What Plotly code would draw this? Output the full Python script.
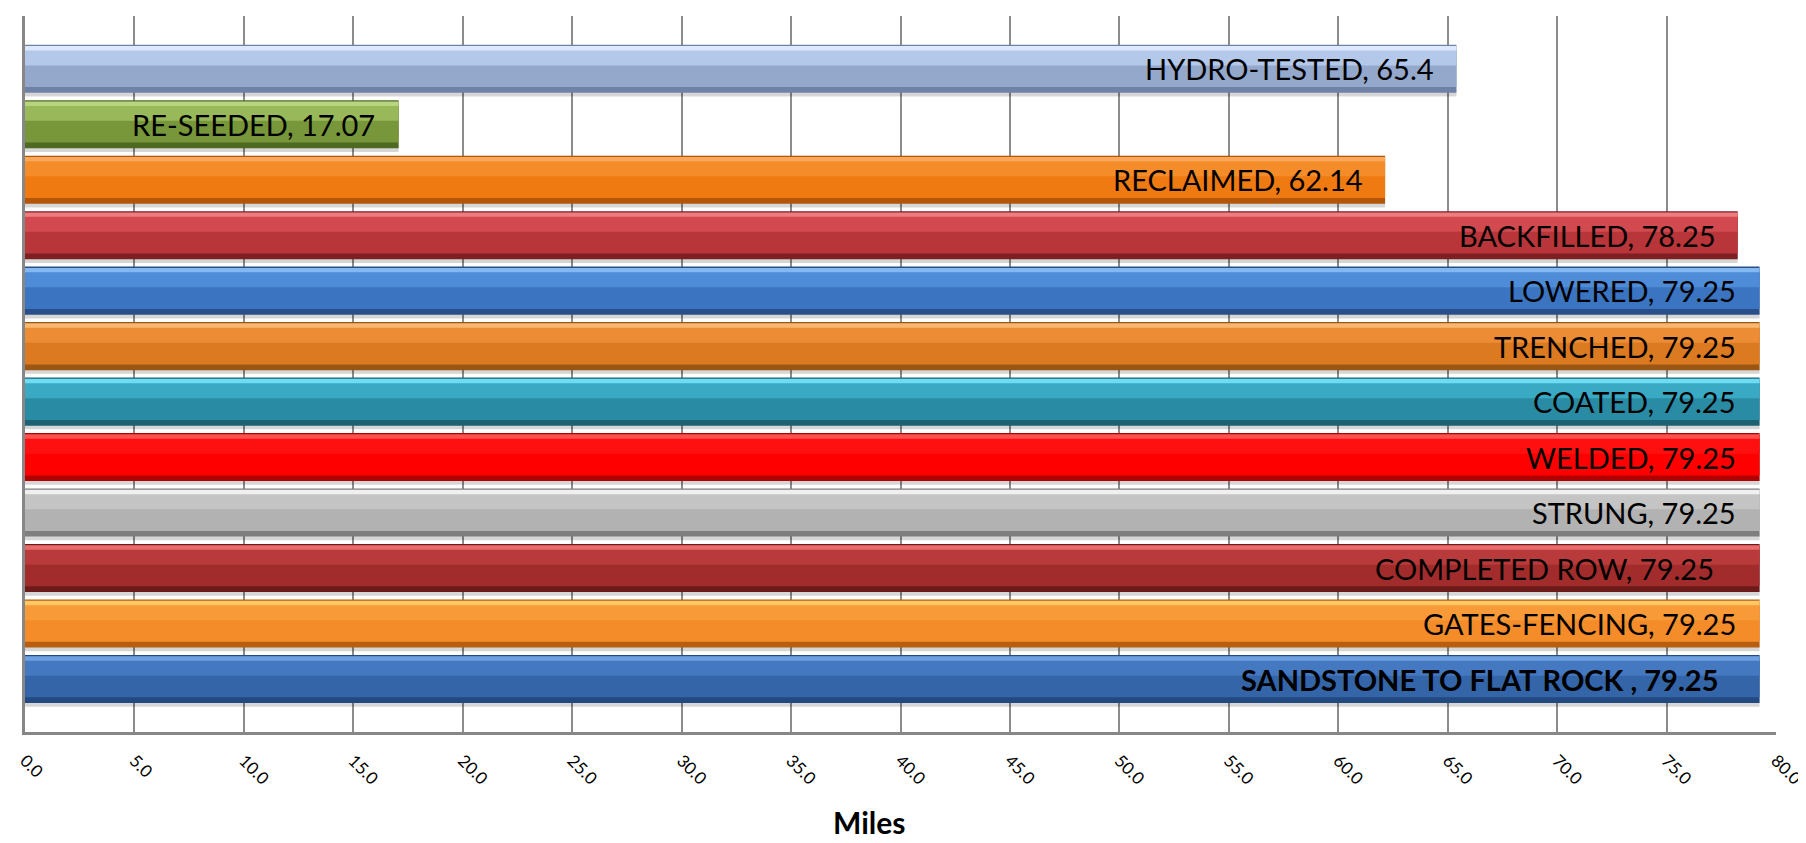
import plotly.graph_objects as go

# ---- data (bottom to top) ----
categories = [
    "SANDSTONE TO FLAT ROCK ", "GATES-FENCING", "COMPLETED ROW", "STRUNG",
    "WELDED", "COATED", "TRENCHED", "LOWERED", "BACKFILLED", "RECLAIMED",
    "RE-SEEDED", "HYDRO-TESTED",
]
miles = [79.25, 79.25, 79.25, 79.25, 79.25, 79.25, 79.25, 79.25, 78.25, 62.14, 17.07, 65.4]
x_ticks = [0, 5, 10, 15, 20, 25, 30, 35, 40, 45, 50, 55, 60, 65, 70, 75, 80]

# ---- styles ----
dark = ["#234a80", "#b85e10", "#6c1a1a", "#7e7e7e", "#b00000", "#1c6174",
        "#9c5614", "#284f8a", "#7e1f22", "#b4560a", "#4e6a22", "#6f82a6"]
body = ["#3465a8", "#f48c2a", "#a22c2c", "#b2b2b2", "#ff0000", "#2a8ca4",
        "#dc7a22", "#3b74c0", "#b8353a", "#ef7a12", "#77973a", "#94a8cc"]
light = ["#4478c0", "#f89a38", "#b83a3a", "#c4c4c4", "#ff1010", "#3aaac4",
         "#ec8c34", "#4f8cd8", "#d24a4f", "#f58c2a", "#98b85a", "#b4c8ea"]
bright = ["#6ea0e0", "#ffc865", "#e86a6a", "#f0f0f0", "#ff5050", "#70dcf2",
          "#f8b870", "#85b8f0", "#ef7d80", "#f8a85a", "#b8d47e", "#dce8fb"]
label_pad = [-40, -22, -44, -22, -22, -22, -22, -22, -20, -20, -22, -20]
label_bold = [True] + [False] * 11

FONT = "Lato, Calibri, Carlito, sans-serif"

fig = go.Figure()

layers = [
    ("rgba(0,0,0,0.16)", -0.50, 0.14),
    (dark, -0.433, 0.866),
    (body, -0.33, 0.73),
    (light, 0.06, 0.34),
    (bright, 0.33, 0.08),
]
for color, off, w in layers:
    fig.add_trace(go.Bar(
        x=miles, y=categories, orientation="h",
        marker=dict(color=color, line=dict(width=0)),
        offset=off, width=w, hoverinfo="skip", showlegend=False,
    ))

for cat, val, pad, bold in zip(categories, miles, label_pad, label_bold):
    txt = f"{cat}, {val:g}"
    if bold:
        txt = f"<b>{txt}</b>"
    fig.add_annotation(
        x=val, y=cat, xref="x", yref="y", text=txt, showarrow=False,
        xanchor="right", yanchor="middle", xshift=pad,
        font=dict(family=FONT, size=29, color="#000000"),
    )

fig.add_annotation(
    x=0.482, y=-0.153, xref="paper", yref="paper", text="<b>Miles</b>",
    showarrow=False, xanchor="center", yanchor="bottom",
    font=dict(family=FONT, size=30, color="#000000"),
)

fig.update_layout(
    width=1806, height=843,
    margin=dict(l=15, r=30, t=8, b=119),
    paper_bgcolor="white", plot_bgcolor="white",
    barmode="overlay",
    font=dict(family=FONT, color="#000000"),
)
fig.update_xaxes(
    range=[0, 80], tickvals=x_ticks, ticktext=[f"{v:.1f}" for v in x_ticks],
    tickangle=45, tickfont=dict(family=FONT, size=17, color="#000000"),
    showgrid=True, gridcolor="#8c8c8c", gridwidth=2,
    showline=True, linecolor="#878787", linewidth=3,
    zeroline=False, ticks="outside", ticklen=9, tickcolor="rgba(0,0,0,0)",
    ticklabeloverflow="allow", fixedrange=True,
)
fig.update_yaxes(
    type="category", categoryorder="array", categoryarray=categories,
    range=[-0.955, 11.95], showticklabels=False, showgrid=False,
    showline=True, linecolor="#878787", linewidth=3,
    zeroline=False, ticks="", fixedrange=True,
)

fig.write_html("out.html")
